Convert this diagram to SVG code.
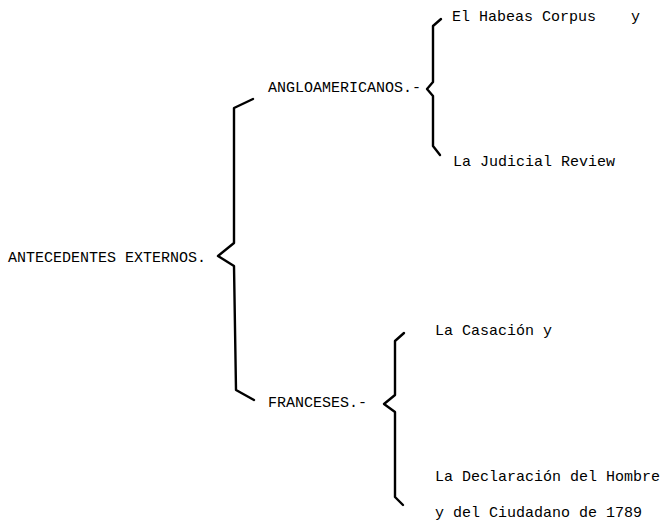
<svg xmlns="http://www.w3.org/2000/svg" width="667" height="521" viewBox="0 0 667 521">
<style>
text { font-family: "Liberation Mono", "DejaVu Sans Mono", monospace; font-size: 15px; fill: #000; }
.brace { fill: none; stroke: #000; stroke-width: 2.4; stroke-linejoin: round; stroke-linecap: round; }
</style>
<rect width="667" height="521" fill="#fff"/>
<g id="connectors">
<path class="brace" d="M253,99 L234,108 L234,243 L218,256 L234,266 L236,390 L254,400"/>
<path class="brace" d="M441,19 L433,26 L433,82 L427,89 L433,96 L433,146 L440,155"/>
<path class="brace" d="M404,333 L395,341 L395,395 L384,404 L395,412 L395,497 L403,505"/>
</g>
<g id="root"><text x="8" y="262">ANTECEDENTES EXTERNOS.</text></g>
<g id="angloamericanos"><text x="268" y="92">ANGLOAMERICANOS.-</text></g>
<g id="habeas"><text x="452" y="21">El Habeas Corpus<tspan x="631">y</tspan></text></g>
<g id="judicial"><text x="453" y="166">La Judicial Review</text></g>
<g id="franceses"><text x="268" y="407">FRANCESES.-</text></g>
<g id="casacion"><text x="435" y="335">La Casación y</text></g>
<g id="declaracion"><text x="435" y="481">La Declaración del Hombre</text><text x="435" y="517">y del Ciudadano de 1789</text></g>
</svg>
